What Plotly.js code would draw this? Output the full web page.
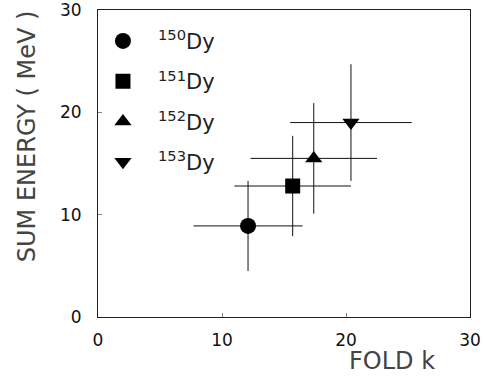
<!DOCTYPE html>
<html>
<head>
<meta charset="utf-8">
<script src="https://cdn.plot.ly/plotly-3.0.1.min.js"></script>
<style>html,body{margin:0;padding:0;background:#fff;}</style>
</head>
<body>
<div id="chart" style="width:487px;height:377px;"></div>
<script>
// Data
const isotopes = ["150", "151", "152", "153"];
const foldK = [12.1, 15.7, 17.4, 20.4];
const sumEnergy = [8.9, 12.8, 15.5, 19.0];
const foldErr = [4.4, 4.7, 5.1, 4.9];
const energyErr = [4.4, 4.9, 5.4, 5.7];
const symbols = ["circle", "square", "triangle-up", "triangle-down"];
const markerSizes = [16, 15, 15, 15];
const xTicks = [0, 10, 20, 30];
const yTicks = [0, 10, 20, 30];

const traces = isotopes.map((iso, i) => ({
  type: "scatter",
  mode: "markers",
  x: [foldK[i]],
  y: [sumEnergy[i]],
  name: '<sup>' + iso + '</sup>Dy',
  legendgroup: "g" + i,
  marker: { symbol: symbols[i], size: markerSizes[i], color: "#000" },
  error_x: { type: "data", array: [foldErr[i]], symmetric: true, width: 0, thickness: 1, color: "#111" },
  error_y: { type: "data", array: [energyErr[i]], symmetric: true, width: 0, thickness: 1, color: "#111" }
}));

const axisCommon = {
  range: [0, 30],
  tickmode: "array",
  showgrid: false,
  zeroline: false,
  showline: true,
  mirror: true,
  linecolor: "#222",
  linewidth: 1,
  ticks: "inside",
  ticklen: 4,
  tickcolor: "#888",
  tickfont: { family: "DejaVu Sans", size: 17, color: "#111" },
  ticklabeloverflow: "allow"
};

const layout = {
  width: 487,
  height: 377,
  margin: { l: 98, r: 17, t: 10, b: 60 },
  paper_bgcolor: "#fff",
  plot_bgcolor: "#fff",
  showlegend: true,
  legend: {
    x: -0.027, y: 0.965, xanchor: "left", yanchor: "top",
    traceorder: "grouped",
    tracegroupgap: 10,
    itemwidth: 60,
    font: { family: "DejaVu Sans", size: 21, color: "#222" },
    bgcolor: "rgba(0,0,0,0)",
    itemsizing: "trace"
  },
  xaxis: Object.assign({}, axisCommon, { tickvals: xTicks, ticktext: xTicks.map(String), ticklabelstandoff: 8 }),
  yaxis: Object.assign({}, axisCommon, { tickvals: yTicks, ticktext: yTicks.map(String), ticklabelstandoff: 12 }),
  annotations: [
    {
      text: "SUM ENERGY ( MeV )", xref: "paper", yref: "paper",
      x: -0.19, y: 0.59, xanchor: "center", yanchor: "middle",
      textangle: -90, showarrow: false,
      font: { family: "DejaVu Sans", size: 24, color: "#444" }
    },
    {
      text: "FOLD k", xref: "paper", yref: "paper",
      x: 0.79, y: -0.143, xanchor: "center", yanchor: "middle",
      showarrow: false,
      font: { family: "DejaVu Sans", size: 24, color: "#444" }
    }
  ]
};

Plotly.newPlot("chart", traces, layout, { staticPlot: true, displayModeBar: false });
</script>
</body>
</html>
